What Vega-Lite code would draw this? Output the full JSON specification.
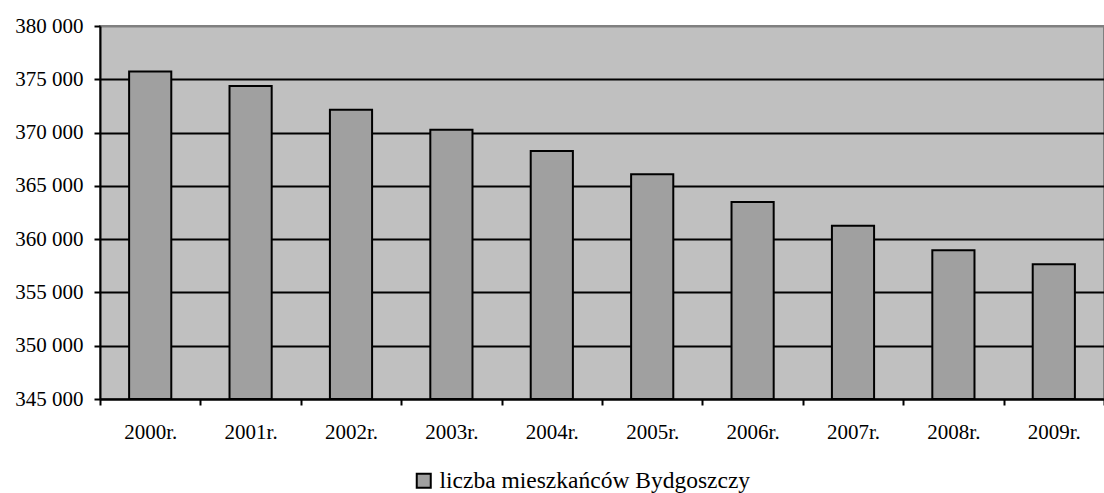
{
  "$schema": "https://vega.github.io/schema/vega-lite/v6.json",
  "autosize": {"type": "none"},
  "padding": {"left": 100, "top": 26, "right": 0, "bottom": 94},
  "width": 1004,
  "height": 373,
  "background": "white",
  "config": {
    "font": "Liberation Serif",
    "axis": {"labelFont": "Liberation Serif"},
    "legend": {"labelFont": "Liberation Serif"},
    "view": {"fill": "#C0C0C0", "stroke": "#808080", "strokeWidth": 2}
  },
  "data": {
    "values": [
      {"rok": "2000r.", "liczba": 375730, "seria": "liczba mieszkańców Bydgoszczy"},
      {"rok": "2001r.", "liczba": 374370, "seria": "liczba mieszkańców Bydgoszczy"},
      {"rok": "2002r.", "liczba": 372150, "seria": "liczba mieszkańców Bydgoszczy"},
      {"rok": "2003r.", "liczba": 370260, "seria": "liczba mieszkańców Bydgoszczy"},
      {"rok": "2004r.", "liczba": 368270, "seria": "liczba mieszkańców Bydgoszczy"},
      {"rok": "2005r.", "liczba": 366100, "seria": "liczba mieszkańców Bydgoszczy"},
      {"rok": "2006r.", "liczba": 363490, "seria": "liczba mieszkańców Bydgoszczy"},
      {"rok": "2007r.", "liczba": 361250, "seria": "liczba mieszkańców Bydgoszczy"},
      {"rok": "2008r.", "liczba": 358960, "seria": "liczba mieszkańców Bydgoszczy"},
      {"rok": "2009r.", "liczba": 357650, "seria": "liczba mieszkańców Bydgoszczy"}
    ]
  },
  "mark": {"type": "bar", "stroke": "black", "strokeWidth": 2, "clip": true, "width": {"band": 0.42}},
  "encoding": {
    "x": {
      "field": "rok",
      "type": "nominal",
      "sort": null,
      "scale": {"paddingInner": 0, "paddingOuter": 0},
      "axis": {
        "title": null,
        "labelAngle": 0,
        "labelFont": "Liberation Serif",
        "labelFontSize": 21,
        "labelColor": "black",
        "labelPadding": 16,
        "tickBand": "extent",
        "ticks": true,
        "tickColor": "black",
        "tickWidth": 2,
        "tickSize": 6,
        "domainColor": "black",
        "domainWidth": 2,
        "grid": false
      }
    },
    "y": {
      "field": "liczba",
      "type": "quantitative",
      "scale": {"domain": [345000, 380000], "zero": false, "nice": false},
      "axis": {
        "title": null,
        "values": [345000, 350000, 355000, 360000, 365000, 370000, 375000, 380000],
        "labelExpr": "replace(format(datum.value, ',d'), ',', ' ')",
        "labelFont": "Liberation Serif",
        "labelFontSize": 21,
        "labelColor": "black",
        "labelPadding": 11,
        "tickColor": "black",
        "tickWidth": 2,
        "tickSize": 6,
        "domainColor": "black",
        "domainWidth": 2,
        "grid": true,
        "gridColor": {"condition": {"test": "datum.value == 380000", "value": "#808080"}, "value": "black"},
        "gridWidth": 2,
        "gridOpacity": 1
      }
    },
    "y2": {"datum": 345000},
    "color": {
      "field": "seria",
      "type": "nominal",
      "scale": {"range": ["#A0A0A0"]},
      "legend": {
        "title": null,
        "orient": "none",
        "legendX": 312,
        "legendY": 443,
        "padding": 0,
        "symbolType": "square",
        "symbolSize": 196,
        "symbolStrokeColor": "black",
        "symbolStrokeWidth": 2,
        "symbolFillColor": "#A0A0A0",
        "labelFont": "Liberation Serif",
        "labelFontSize": 23.5,
        "labelColor": "black",
        "labelOffset": 4,
        "labelLimit": 0
      }
    }
  }
}
